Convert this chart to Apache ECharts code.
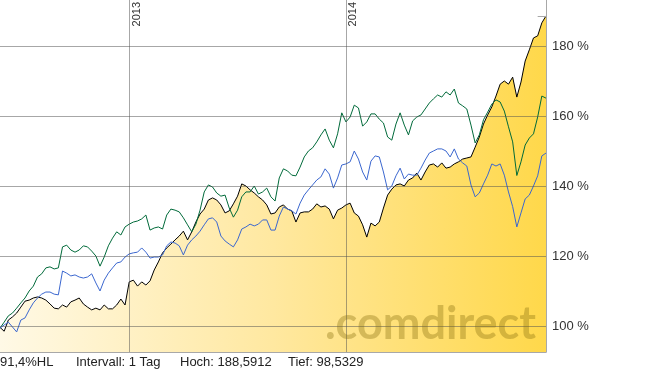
<!DOCTYPE html>
<html>
<head>
<meta charset="utf-8">
<script src="https://cdn.jsdelivr.net/npm/echarts@6/dist/echarts.min.js"></script>
<style>
html,body{margin:0;padding:0;background:#fff;}
#chart{width:645px;height:372px;}
</style>
</head>
<body>
<div id="chart"></div>
<script>
// weekly closing dates (Fridays) from 2012-06-01
const dates = [];
for (let i = 0; i < 132; i++) {
  const d = new Date(Date.UTC(2012, 5, 1 + 7 * i));
  dates.push(d.toISOString().slice(0, 10));
}

const yearMarks = [
  { date: '2013-01-04', label: '2013' },
  { date: '2014-01-03', label: '2014' }
];

const yTicks = [100, 120, 140, 160, 180];

// main security (black, filled)
const mainSeries = [99.6, 98.5, 101.7, 102.6, 103.7, 105.4, 107.1, 107.4, 108.0, 108.3,
108.0, 107.4, 106.3, 105.1, 104.9, 106.0, 105.4, 106.9, 107.4, 108.0,
106.3, 105.4, 104.6, 105.1, 104.6, 106.0, 104.9, 104.9, 106.0, 107.7,
106.0, 112.6, 113.1, 111.4, 112.6, 111.7, 112.9, 116.0, 118.3, 120.9,
122.3, 123.4, 124.6, 125.7, 127.1, 124.6, 126.9, 129.7, 132.0, 133.4,
136.0, 136.6, 136.0, 134.6, 132.3, 132.9, 134.9, 137.1, 140.6, 140.0,
138.9, 138.0, 136.9, 136.0, 134.6, 132.0, 132.3, 134.0, 134.6, 133.4,
132.9, 129.7, 132.3, 132.6, 132.6, 133.4, 134.9, 134.0, 134.3, 133.4,
130.6, 133.1, 133.7, 134.6, 135.1, 132.3, 131.4, 128.9, 125.4, 129.4,
128.6, 129.7, 133.7, 137.4, 139.1, 140.3, 140.6, 140.0, 141.7, 142.3,
143.7, 141.7, 144.0, 146.0, 146.3, 145.4, 146.6, 145.1, 145.4, 146.3,
146.9, 147.7, 148.0, 148.3, 151.1, 154.0, 157.7, 160.3, 162.6, 165.7,
169.1, 170.0, 169.1, 171.1, 165.4, 169.7, 175.7, 178.9, 182.3, 182.9,
186.6, 188.6];

// comparison 1 (green)
const greenSeries = [99.4, 101.1, 102.9, 103.7, 105.1, 106.6, 108.0, 110.0, 111.4, 114.0,
114.9, 116.6, 116.9, 116.3, 116.6, 122.6, 123.1, 121.7, 121.1, 121.7,
122.9, 122.6, 121.4, 120.0, 117.1, 119.7, 122.9, 125.1, 126.9, 126.0,
128.3, 129.1, 129.7, 130.0, 130.6, 131.7, 127.4, 128.0, 128.3, 127.7,
131.7, 133.4, 133.1, 132.6, 130.9, 128.9, 126.9, 129.1, 133.1, 138.3,
140.3, 139.7, 138.0, 137.1, 137.4, 133.7, 131.1, 133.1, 136.9, 138.3,
138.3, 140.0, 137.7, 138.3, 139.4, 136.9, 135.7, 142.3, 144.9, 144.3,
143.1, 142.9, 145.4, 148.3, 150.0, 150.9, 152.6, 154.6, 156.3, 153.1,
150.9, 154.9, 160.9, 158.3, 159.7, 163.1, 162.3, 157.1, 158.3, 160.6,
160.6, 159.1, 158.0, 154.0, 153.1, 157.7, 160.9, 157.4, 154.6, 158.6,
159.7, 160.3, 162.0, 163.7, 164.9, 166.0, 165.4, 166.9, 166.0, 167.7,
163.7, 162.9, 162.0, 157.4, 152.3, 154.6, 158.9, 161.1, 163.4, 164.6,
164.0, 161.4, 156.9, 152.6, 143.0, 146.9, 151.7, 153.7, 154.9, 159.7,
165.7, 165.1];

// comparison 2 (blue)
const blueSeries = [99.4, 100.3, 101.1, 99.7, 98.3, 101.7, 102.3, 104.6, 106.6, 108.0,
109.1, 109.7, 109.7, 109.1, 108.9, 115.7, 115.1, 114.3, 114.6, 114.0,
113.7, 114.0, 114.9, 112.3, 110.0, 113.1, 115.1, 116.6, 118.0, 118.3,
119.7, 120.6, 120.9, 121.1, 122.3, 121.1, 119.4, 119.7, 119.7, 120.3,
122.9, 124.0, 123.7, 122.9, 120.3, 123.1, 124.6, 125.7, 127.1, 128.9,
130.6, 130.9, 129.7, 125.7, 124.3, 123.4, 122.6, 124.6, 127.7, 128.3,
129.1, 128.6, 129.1, 130.3, 130.3, 127.4, 127.4, 131.4, 134.0, 133.4,
132.9, 132.0, 135.1, 137.4, 138.9, 140.3, 141.7, 142.6, 144.9, 143.4,
139.4, 142.3, 146.0, 146.3, 146.9, 150.0, 147.7, 144.0, 141.7, 147.1,
148.6, 148.3, 144.0, 138.9, 140.0, 142.9, 145.1, 142.0, 143.4, 143.1,
143.1, 145.1, 147.4, 149.4, 150.0, 150.6, 150.6, 150.0, 148.3, 150.6,
147.7, 146.6, 145.7, 140.3, 136.9, 138.0, 140.6, 143.1, 146.3, 145.7,
146.3, 143.1, 138.3, 134.1, 128.3, 132.3, 136.3, 137.4, 140.0, 142.9,
148.6, 149.4];

const infoTexts = ['91,4%HL', 'Intervall: 1 Tag', 'Hoch: 188,5912', 'Tief: 98,5329'];
const highValue = 188.5912;

const chart = echarts.init(document.getElementById('chart'), null, { renderer: 'canvas' });
const font = 'Liberation Sans, Arial, sans-serif';
const gridCol = 'rgba(80,80,80,0.5)';
const infoLeft = [0, 76, 180, 288];

chart.setOption({
  animation: false,
  backgroundColor: '#fff',
  title: infoTexts.map((t, i) => ({
    text: t, left: infoLeft[i], top: 356, padding: 0,
    textStyle: { fontSize: 13, fontWeight: 'normal', color: '#222', fontFamily: font }
  })),
  grid: { left: 0, right: 99, top: 0, bottom: 20 },
  xAxis: {
    type: 'category', data: dates, boundaryGap: false,
    axisLine: { show: true, lineStyle: { color: '#a8a8a8', width: 1 } },
    axisTick: { show: false }, axisLabel: { show: false }, splitLine: { show: false }
  },
  yAxis: {
    type: 'value', position: 'right', min: 92.57, max: 193.14, z: 3,
    axisLine: { show: true, lineStyle: { color: '#a8a8a8', width: 1 } },
    axisTick: { show: false, customValues: yTicks },
    axisLabel: { customValues: yTicks, formatter: '{value} %', color: '#333', fontSize: 13, fontFamily: font, margin: 6 },
    splitLine: { show: true, lineStyle: { color: gridCol, width: 1 } }
  },
  graphic: [{
    type: 'text', right: 109, bottom: 25, z: 10, silent: true,
    style: { text: '.comdirect', font: 'bold 45px Lato, sans-serif', fill: 'rgba(135,112,15,0.36)' }
  }],
  series: [
    {
      type: 'line', data: mainSeries, symbol: 'none', z: 2,
      lineStyle: { color: '#000', width: 1 },
      areaStyle: {
        opacity: 1,
        color: new echarts.graphic.LinearGradient(0, 0, 1, 0, [
          { offset: 0, color: '#fff9e6' },
          { offset: 0.5, color: '#ffe8a0' },
          { offset: 1, color: '#ffd84a' }
        ])
      },
      markLine: {
        silent: true, symbol: ['none', 'none'], label: { show: false },
        lineStyle: { color: '#a8a8a8', type: 'solid', width: 1 },
        data: [[{ coord: [dates.length - 3, highValue] }, { coord: [dates.length - 1, highValue] }]]
      }
    },
    { type: 'line', data: greenSeries, symbol: 'none', z: 2, lineStyle: { color: '#006a3a', width: 1 } },
    { type: 'line', data: blueSeries, symbol: 'none', z: 2, lineStyle: { color: '#3b67cf', width: 1 } },
    {
      type: 'line', data: [], z: 3,
      markLine: {
        silent: true, symbol: ['none', 'none'],
        lineStyle: { color: gridCol, type: 'solid', width: 1 },
        label: { show: true, position: 'insideEndBottom', distance: 2, color: '#333', fontSize: 11, fontFamily: font, formatter: p => p.name },
        data: yearMarks.map(m => ({ xAxis: m.date, name: m.label }))
      }
    }
  ]
});
</script>
</body>
</html>
